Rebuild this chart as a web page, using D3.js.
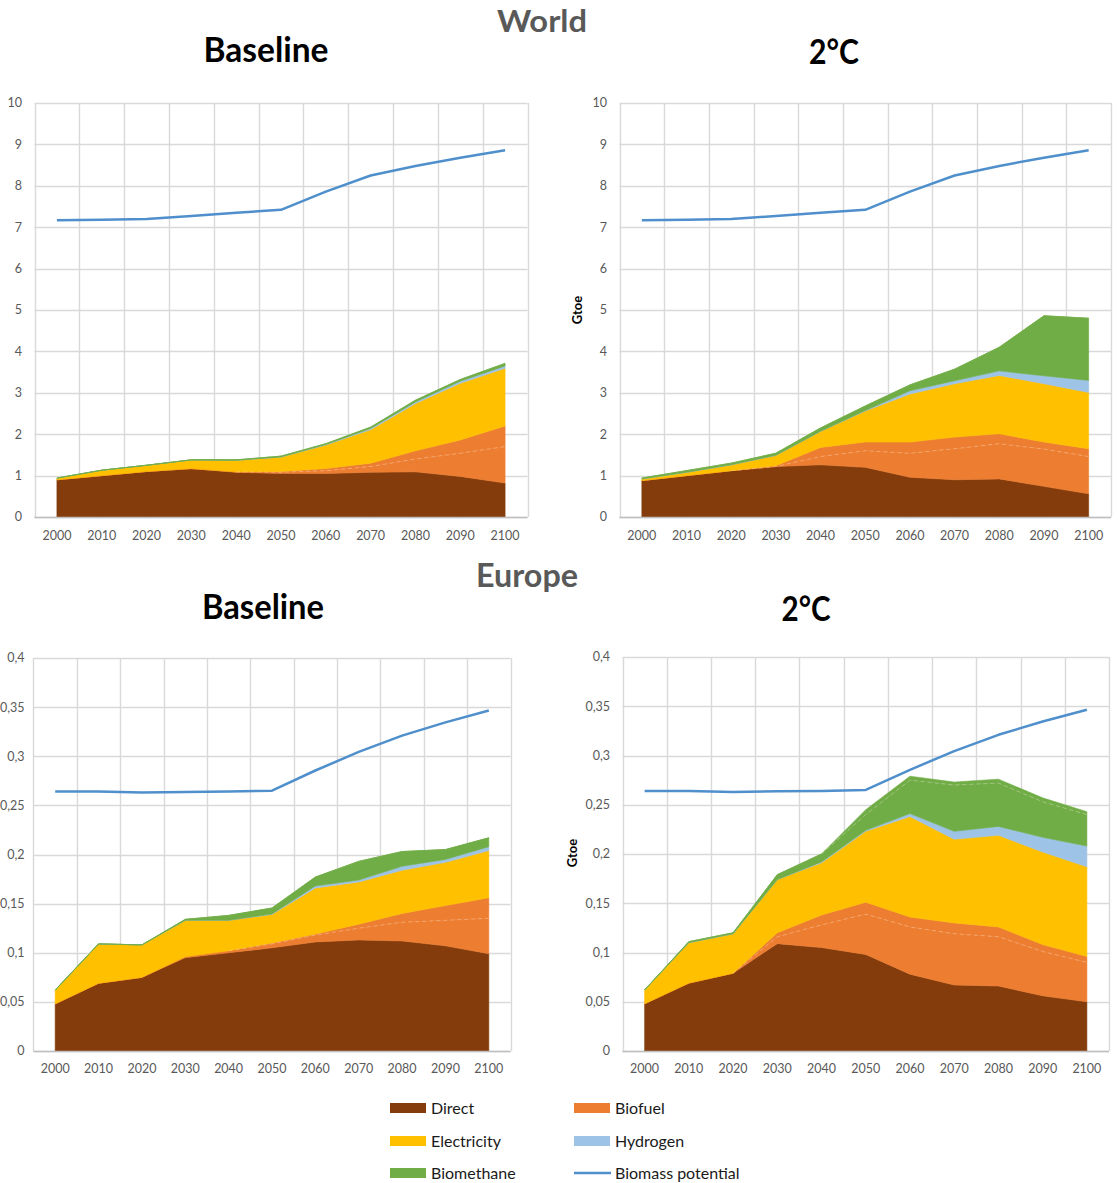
<!DOCTYPE html>
<html>
<head>
<meta charset="utf-8">
<script src="https://cdn.jsdelivr.net/npm/d3@7"></script>
<style>
  html, body { margin: 0; padding: 0; background: #fff; }
  svg { display: block; font-family: Lato, "Open Sans", sans-serif; }
</style>
</head>
<body>
<svg id="chart" width="1118" height="1183"></svg>
<script>
// ---------------- DATA ----------------
const years = [2000, 2010, 2020, 2030, 2040, 2050, 2060, 2070, 2080, 2090, 2100];

const worldTicks = [0, 1, 2, 3, 4, 5, 6, 7, 8, 9, 10];
const worldTickLabels = ["0", "1", "2", "3", "4", "5", "6", "7", "8", "9", "10"];
const europeTicks = [0, 0.05, 0.1, 0.15, 0.2, 0.25, 0.3, 0.35, 0.4];
const europeTickLabels = ["0", "0,05", "0,1", "0,15", "0,2", "0,25", "0,3", "0,35", "0,4"];

const worldPotential  = [7.17, 7.18, 7.20, 7.27, 7.35, 7.42, 7.86, 8.25, 8.48, 8.68, 8.86];
const europePotential = [0.264, 0.264, 0.263, 0.2637, 0.264, 0.265, 0.2855, 0.3044, 0.321, 0.3345, 0.3465];

// World – Baseline
const wbDirect      = [0.90, 1.00, 1.10, 1.17, 1.08, 1.05, 1.05, 1.08, 1.09, 0.98, 0.82];
const wbBiofuelA    = [0, 0, 0, 0, 0.01, 0.03, 0.07, 0.14, 0.31, 0.56, 0.88];
const wbBiofuelB    = [0, 0, 0, 0, 0, 0.02, 0.05, 0.08, 0.20, 0.32, 0.50];
const wbElectricity = [0.04, 0.13, 0.15, 0.21, 0.28, 0.35, 0.57, 0.81, 1.14, 1.37, 1.39];
const wbHydrogen    = [0, 0, 0, 0, 0, 0, 0.01, 0.03, 0.04, 0.05, 0.06];
const wbBiomethaneA = [0, 0, 0, 0, 0.01, 0.02, 0.02, 0.03, 0.04, 0.04, 0.06];
const wbBiomethaneB = [0, 0, 0, 0, 0, 0, 0, 0, 0, 0, 0];

// World – 2°C
const w2Direct      = [0.88, 1.00, 1.12, 1.22, 1.26, 1.20, 0.96, 0.90, 0.92, 0.74, 0.56];
const w2BiofuelA    = [0, 0, 0, 0, 0.20, 0.40, 0.58, 0.75, 0.85, 0.90, 0.90];
const w2BiofuelB    = [0, 0, 0, 0.02, 0.22, 0.21, 0.27, 0.28, 0.24, 0.17, 0.19];
const w2Electricity = [0.04, 0.08, 0.14, 0.25, 0.39, 0.75, 1.16, 1.29, 1.41, 1.41, 1.36];
const w2Hydrogen    = [0, 0, 0, 0, 0, 0.01, 0.08, 0.07, 0.11, 0.19, 0.29];
const w2BiomethaneA = [0.02, 0.04, 0.04, 0.05, 0.08, 0.11, 0.14, 0.28, 0.57, 1.45, 1.50];
const w2BiomethaneB = [0, 0, 0, 0, 0, 0, 0, 0, 0, 0, 0];

// Europe – Baseline
const ebDirect      = [0.048, 0.069, 0.075, 0.095, 0.100, 0.105, 0.111, 0.113, 0.112, 0.107, 0.099];
const ebBiofuelA    = [0, 0, 0, 0.001, 0.002, 0.004, 0.007, 0.012, 0.019, 0.026, 0.036];
const ebBiofuelB    = [0, 0, 0, 0, 0, 0.001, 0.001, 0.004, 0.009, 0.015, 0.021];
const ebElectricity = [0.014, 0.040, 0.033, 0.037, 0.031, 0.029, 0.047, 0.043, 0.044, 0.044, 0.048];
const ebHydrogen    = [0, 0, 0, 0, 0, 0.0005, 0.002, 0.002, 0.004, 0.003, 0.004];
const ebBiomethaneA = [0, 0, 0, 0.001, 0.005, 0.006, 0.009, 0.019, 0.015, 0.010, 0.009];
const ebBiomethaneB = [0, 0, 0, 0, 0, 0, 0, 0, 0, 0, 0];

// Europe – 2°C
const e2Direct      = [0.048, 0.069, 0.079, 0.109, 0.105, 0.098, 0.078, 0.067, 0.066, 0.056, 0.050];
const e2BiofuelA    = [0, 0, 0, 0.007, 0.023, 0.041, 0.048, 0.052, 0.050, 0.045, 0.040];
const e2BiofuelB    = [0, 0, 0, 0.004, 0.010, 0.012, 0.010, 0.011, 0.010, 0.007, 0.006];
const e2Electricity = [0.014, 0.041, 0.040, 0.054, 0.053, 0.072, 0.102, 0.085, 0.093, 0.094, 0.091];
const e2Hydrogen    = [0, 0, 0, 0, 0.001, 0.001, 0.003, 0.008, 0.009, 0.015, 0.021];
const e2BiomethaneA = [0, 0.001, 0.001, 0.005, 0.008, 0.016, 0.034, 0.047, 0.044, 0.036, 0.032];
const e2BiomethaneB = [0, 0, 0, 0, 0, 0.005, 0.004, 0.003, 0.004, 0.004, 0.003];

const legendNames = ["Direct", "Biofuel", "Electricity", "Hydrogen", "Biomethane", "Biomass potential"];

// ---------------- STYLE ----------------
const colors = {
  direct: "#843C0C",
  biofuelA: "#ED7D31", biofuelB: "#ED7D31",
  electricity: "#FFC000",
  hydrogen: "#9DC3E6",
  biomethaneA: "#70AD47", biomethaneB: "#70AD47",
  potential: "#4F8FCC"
};
const keys = ["direct", "biofuelA", "biofuelB", "electricity", "hydrogen", "biomethaneA", "biomethaneB"];
const splitKeys = ["biofuelA", "biomethaneA"]; // faint dashed separation lines

const svg = d3.select("#chart");

function buildRows(arrs) {
  return years.map((yr, i) => {
    const r = { year: yr };
    keys.forEach((k, j) => r[k] = arrs[j][i]);
    return r;
  });
}

const panels = [
  { left: 34.5, right: 527.5, top: 103, bottom: 517, max: 10, ticks: worldTicks, labels: worldTickLabels,
    potential: worldPotential, gtoe: false, xLabelY: 540, labelX: 22,
    rows: buildRows([wbDirect, wbBiofuelA, wbBiofuelB, wbElectricity, wbHydrogen, wbBiomethaneA, wbBiomethaneB]) },
  { left: 619.5, right: 1111, top: 103, bottom: 517, max: 10, ticks: worldTicks, labels: worldTickLabels,
    potential: worldPotential, gtoe: { x: 582, y: 310 }, xLabelY: 540, labelX: 607,
    rows: buildRows([w2Direct, w2BiofuelA, w2BiofuelB, w2Electricity, w2Hydrogen, w2BiomethaneA, w2BiomethaneB]) },
  { left: 33.5, right: 510.5, top: 658, bottom: 1051, max: 0.4, ticks: europeTicks, labels: europeTickLabels,
    potential: europePotential, gtoe: false, xLabelY: 1073, labelX: 24.5,
    rows: buildRows([ebDirect, ebBiofuelA, ebBiofuelB, ebElectricity, ebHydrogen, ebBiomethaneA, ebBiomethaneB]) },
  { left: 622.5, right: 1109, top: 657, bottom: 1051, max: 0.4, ticks: europeTicks, labels: europeTickLabels,
    potential: europePotential, gtoe: { x: 577, y: 853 }, xLabelY: 1073, labelX: 610,
    rows: buildRows([e2Direct, e2BiofuelA, e2BiofuelB, e2Electricity, e2Hydrogen, e2BiomethaneA, e2BiomethaneB]) }
];

panels.forEach(p => {
  const g = svg.append("g");
  const x = d3.scaleBand().domain(years).range([p.left, p.right]).paddingInner(0).paddingOuter(0);
  const cx = d => x(d) + x.bandwidth() / 2;
  const y = d3.scaleLinear().domain([0, p.max]).range([p.bottom, p.top]);

  // horizontal gridlines
  g.selectAll(".hg").data(p.ticks).enter().append("line")
    .attr("x1", p.left).attr("x2", p.right)
    .attr("y1", d => Math.round(y(d)) + 0.5).attr("y2", d => Math.round(y(d)) + 0.5)
    .attr("stroke", "#D9D9D9").attr("stroke-width", 1.4);
  // vertical gridlines at category boundaries
  const bounds = years.map(d => x(d)).concat([p.right]);
  g.selectAll(".vg").data(bounds).enter().append("line")
    .attr("x1", d => Math.round(d) + 0.5).attr("x2", d => Math.round(d) + 0.5)
    .attr("y1", p.top).attr("y2", p.bottom)
    .attr("stroke", "#D9D9D9").attr("stroke-width", 1.4);

  // stacked areas
  const stack = d3.stack().keys(keys)(p.rows);
  const area = d3.area()
    .x(d => cx(d.data.year))
    .y0(d => y(d[0]))
    .y1(d => y(d[1]));
  g.selectAll(".layer").data(stack).enter().append("path")
    .attr("d", area)
    .attr("fill", d => colors[d.key])
    .attr("stroke", d => colors[d.key])
    .attr("stroke-width", 0.6)
    .attr("stroke-linejoin", "round");

  // faint dashed split lines inside biofuel / biomethane
  const splitLine = d3.line().x(d => cx(d.data.year)).y(d => y(d[1]));
  stack.filter(s => splitKeys.includes(s.key)).forEach(s => {
    const nextKey = keys[keys.indexOf(s.key) + 1];
    const nxt = stack.find(t => t.key === nextKey);
    const has = i => (nxt[i][1] - nxt[i][0]) > 0;
    const idx = years.map((_, i) => i).filter(i => has(i) || (i > 0 && has(i - 1)) || (i < years.length - 1 && has(i + 1)));
    if (idx.length < 2) return;
    const pts = idx.map(i => s[i]);
    g.append("path").attr("d", splitLine(pts))
      .attr("fill", "none").attr("stroke", "rgba(255,240,225,0.32)")
      .attr("stroke-width", 1).attr("stroke-dasharray", "4,3");
  });

  // axis line at bottom
  g.append("line").attr("x1", p.left).attr("x2", p.right)
    .attr("y1", Math.round(p.bottom) + 0.5).attr("y2", Math.round(p.bottom) + 0.5)
    .attr("stroke", "#BFBFBF").attr("stroke-width", 1.4);

  // potential line
  const line = d3.line().x((d, i) => cx(years[i])).y(d => y(d));
  g.append("path").attr("d", line(p.potential))
    .attr("fill", "none").attr("stroke", colors.potential)
    .attr("stroke-width", 2.5).attr("stroke-linejoin", "round");

  // y tick labels
  g.selectAll(".yl").data(p.ticks).enter().append("text")
    .attr("x", p.labelX).attr("y", d => y(d))
    .attr("dy", "0.35em").attr("text-anchor", "end")
    .attr("font-size", 12.5).attr("fill", "#595959")
    .text((d, i) => p.labels[i]);
  // x tick labels
  g.selectAll(".xl").data(years).enter().append("text")
    .attr("x", d => cx(d)).attr("y", p.xLabelY)
    .attr("text-anchor", "middle")
    .attr("font-size", 12.5).attr("fill", "#595959")
    .text(d => d);

  if (p.gtoe) {
    g.append("text")
      .attr("transform", `translate(${p.gtoe.x},${p.gtoe.y}) rotate(-90)`)
      .attr("text-anchor", "middle")
      .attr("font-size", 13).attr("font-weight", "bold").attr("fill", "#000")
      .text("Gtoe");
  }
});

// ---------------- TITLES ----------------
const titles = [
  { t: "World", x: 542, y: 32, w: 90, size: 30, color: "#595959" },
  { t: "Baseline", x: 266, y: 62, w: 125, size: 34, color: "#000" },
  { t: "2°C", x: 834, y: 64, w: 50, size: 34, color: "#000" },
  { t: "Europe", x: 527, y: 587, w: 102, size: 32, color: "#595959" },
  { t: "Baseline", x: 263, y: 619, w: 122, size: 34, color: "#000" },
  { t: "2°C", x: 806, y: 621, w: 49, size: 34, color: "#000" }
];
titles.forEach(d => {
  svg.append("text")
    .attr("x", d.x).attr("y", d.y)
    .attr("text-anchor", "middle")
    .attr("font-size", d.size).attr("font-weight", "bold")
    .attr("fill", d.color)
    .attr("textLength", d.w).attr("lengthAdjust", "spacingAndGlyphs")
    .text(d.t);
});

// ---------------- LEGEND ----------------
const legendItems = [
  { name: legendNames[0], key: "direct", x: 390, y: 1108 },
  { name: legendNames[1], key: "biofuelA", x: 574, y: 1108 },
  { name: legendNames[2], key: "electricity", x: 390, y: 1141 },
  { name: legendNames[3], key: "hydrogen", x: 574, y: 1141 },
  { name: legendNames[4], key: "biomethaneA", x: 390, y: 1173 },
  { name: legendNames[5], key: "potential", x: 574, y: 1173, line: true }
];
const lg = svg.append("g");
legendItems.forEach(d => {
  if (d.line) {
    lg.append("line").attr("x1", d.x).attr("x2", d.x + 37)
      .attr("y1", d.y).attr("y2", d.y)
      .attr("stroke", colors.potential).attr("stroke-width", 2.5);
  } else {
    lg.append("rect").attr("x", d.x).attr("y", d.y - 5)
      .attr("width", 36).attr("height", 10)
      .attr("fill", colors[d.key]);
  }
  lg.append("text").attr("x", d.x + 41).attr("y", d.y)
    .attr("dy", "0.35em").attr("font-size", 16).attr("fill", "#1a1a1a")
    .text(d.name);
});
</script>
</body>
</html>
